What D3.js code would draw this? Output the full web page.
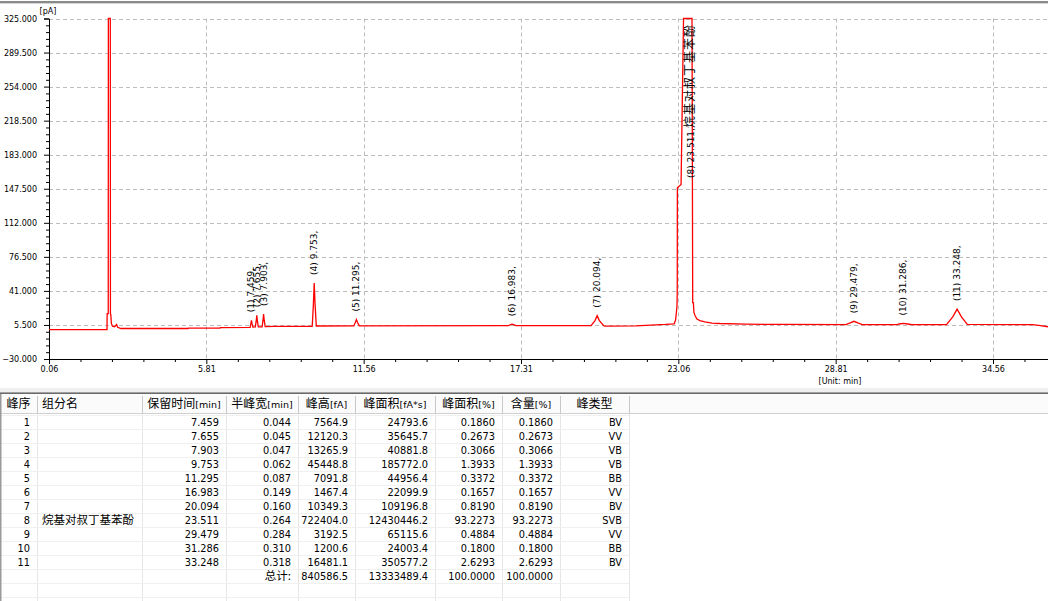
<!DOCTYPE html>
<html><head><meta charset="utf-8">
<script src="https://cdn.jsdelivr.net/npm/d3@7"></script>
<style>
html,body{margin:0;padding:0;background:#fff;overflow:hidden;}
svg{display:block;}
</style></head>
<body>
<script>
// ---------- DATA ----------
const traceTime = [0.06,2.18,2.185,2.225,2.23,2.30,2.305,2.32,2.34,2.38,2.46,2.53,2.57,2.69,5.14,5.15,6.31,6.32,7.41,
  7.437,7.459,7.481,7.51,7.60,7.632,7.655,7.678,7.71,7.85,7.88,7.903,7.926,7.96,8.30,9.68,9.722,9.753,9.784,9.83,
  11.20,11.25,11.295,11.34,11.40,16.85,16.91,16.983,17.06,17.13,19.87,20.014,20.094,20.174,20.34,20.42,21.5,22.6,
  22.91,22.96,22.99,23.01,23.02,23.025,23.16,23.25,23.511,23.56,23.575,23.585,23.61,23.63,23.67,23.74,23.85,24.03,
  24.29,24.58,25.5,27.0,29.18,29.34,29.479,29.62,29.78,31.05,31.13,31.286,31.44,31.60,32.86,33.089,33.248,33.407,
  33.62,36.0,36.3,36.57];
const traceSignal = [0.7,0.7,17.4,17.4,330,330,17.4,16.0,7.0,4.2,3.6,5.9,3.0,1.8,1.8,2.1,2.1,2.8,3.0,
  6.8,10.4,6.8,3.3,3.4,9.4,15.5,9.4,3.5,3.6,10.2,16.9,10.2,3.8,4.0,4.1,26.7,49.3,26.7,4.4,
  4.5,7.8,11.1,7.8,4.6,4.7,5.5,6.3,5.5,4.8,4.8,10.0,15.2,10.0,4.5,4.3,4.6,6.0,
  6.7,10.8,18.7,25.0,39.0,148.6,152,330,722.4,330,150,28.8,28.8,18.5,15.3,11.7,10.1,8.75,
  7.5,7.0,6.3,6.0,5.9,7.6,9.3,7.6,5.9,5.9,6.5,7.1,6.5,5.9,5.9,14.0,22.0,14.0,
  6.0,5.8,4.8,3.6];

const yTickValues = [-30, 5.5, 41, 76.5, 112, 147.5, 183, 218.5, 254, 289.5, 325];
const xTickValues = [0.06, 5.81, 11.56, 17.31, 23.06, 28.81, 34.56];

const peakNo = [1,2,3,4,5,6,7,8,9,10,11];
const peakNames = ['','','','','','','','烷基对叔丁基苯酚','','',''];
const retTimes = [7.459,7.655,7.903,9.753,11.295,16.983,20.094,23.511,29.479,31.286,33.248];
const halfWidths = [0.044,0.045,0.047,0.062,0.087,0.149,0.160,0.264,0.284,0.310,0.318];
const peakHeights = [7564.9,12120.3,13265.9,45448.8,7091.8,1467.4,10349.3,722404.0,3192.5,1200.6,16481.1];
const peakAreas = [24793.6,35645.7,40881.8,185772.0,44956.4,22099.9,109196.8,12430446.2,65115.6,24003.4,350577.2];
const areaPct = [0.1860,0.2673,0.3066,1.3933,0.3372,0.1657,0.8190,93.2273,0.4884,0.1800,2.6293];
const contentPct = [0.1860,0.2673,0.3066,1.3933,0.3372,0.1657,0.8190,93.2273,0.4884,0.1800,2.6293];
const peakTypes = ['BV','VV','VB','VB','BB','VV','BV','SVB','VV','BB','BV'];
const totalLabel = '总计:';
const totals = {height: '840586.5', area: '13333489.4', areaPct: '100.0000', content: '100.0000'};
const headers = ['峰序','组分名','保留时间[min]','半峰宽[min]','峰高[fA]','峰面积[fA*s]','峰面积[%]','含量[%]','峰类型'];

// ---------- LAYOUT ----------
const W = 1048, H = 601;
const L = 49, R = 1048, T = 18.5, B = 359;
const NUM_FONT = '"DejaVu Sans", sans-serif';
const CJK_FONT = '"Noto Sans CJK SC", sans-serif';

const svg = d3.select('body').append('svg').attr('width', W).attr('height', H);
svg.append('rect').attr('width', W).attr('height', H).attr('fill', '#fff');

// window frame top
svg.append('rect').attr('x',0).attr('y',1).attr('width',W).attr('height',2).attr('fill','#8a8a8a');
svg.append('rect').attr('x',0).attr('y',3).attr('width',W).attr('height',1).attr('fill','#d4d4d4');

const x = d3.scaleLinear().domain([0.06, 36.57]).range([L, R]);
const y = d3.scaleLinear().domain([-30, 325]).range([B, T]).clamp(true);

// grid
const grid = svg.append('g').attr('stroke', '#bdbdbd').attr('stroke-dasharray', '4,3').attr('stroke-width', 1);
grid.selectAll('line.h').data(yTickValues.filter(v => v > -30)).join('line')
  .attr('x1', L).attr('x2', R).attr('y1', d => Math.round(y(d)) + 0.5).attr('y2', d => Math.round(y(d)) + 0.5);
grid.selectAll('line.v').data(xTickValues.filter(v => v > 0.06)).join('line')
  .attr('y1', T).attr('y2', B).attr('x1', d => Math.round(x(d)) + 0.5).attr('x2', d => Math.round(x(d)) + 0.5);

// minor ticks
const yMinor = d3.range(-30, 325.01, 7.1).filter(v => !yTickValues.some(t => Math.abs(t - v) < 1e-6));
const xMinor = d3.range(0.06, 36.57, 1.15).filter(v => !xTickValues.some(t => Math.abs(t - v) < 1e-6));

const gyMinor = svg.append('g').attr('transform', `translate(${L},0)`)
  .call(d3.axisLeft(y).tickValues(yMinor).tickSize(3).tickFormat(''));
gyMinor.select('.domain').remove();
const gxMinor = svg.append('g').attr('transform', `translate(0,${B})`)
  .call(d3.axisBottom(x).tickValues(xMinor).tickSize(3).tickFormat(''));
gxMinor.select('.domain').remove();

// axes
const gy = svg.append('g').attr('transform', `translate(${L},0)`)
  .call(d3.axisLeft(y).tickValues(yTickValues).tickSize(5).tickPadding(7).tickFormat(d3.format('.3f')));
const gx = svg.append('g').attr('transform', `translate(0,${B})`)
  .call(d3.axisBottom(x).tickValues(xTickValues).tickSize(5).tickPadding(2).tickFormat(d3.format('.2f')));
[gy, gx].forEach(g => {
  g.attr('font-family', NUM_FONT).attr('font-size', 8);
  g.selectAll('text').attr('fill', '#000');
  g.selectAll('line,path').attr('stroke', '#000');
});
[gyMinor, gxMinor].forEach(g => g.selectAll('line').attr('stroke', '#000'));

svg.append('text').attr('x', 48).attr('y', 14).attr('text-anchor', 'middle')
  .attr('font-family', NUM_FONT).attr('font-size', 8).attr('fill', '#000').text('[pA]');
svg.append('text').attr('x', 840).attr('y', 384).attr('text-anchor', 'middle')
  .attr('font-family', NUM_FONT).attr('font-size', 8).attr('fill', '#000').text('[Unit: min]');

// trace
const pts = traceTime.map((t, i) => [t, traceSignal[i]]);
svg.append('path').datum(pts)
  .attr('fill', 'none').attr('stroke', '#ff0000').attr('stroke-width', 1.3).attr('stroke-linejoin', 'miter')
  .attr('d', d3.line().x(d => x(d[0])).y(d => y(d[1])));

// peak labels
retTimes.forEach((rt, i) => {
  let apex = -Infinity;
  pts.forEach(p => { if (Math.abs(p[0] - rt) <= 0.06) apex = Math.max(apex, p[1]); });
  const px = x(rt);
  const t = svg.append('text').attr('font-family', NUM_FONT).attr('font-size', 9).attr('fill', '#000')
    .attr('dy', '0.33em');
  t.append('tspan').text(`(${peakNo[i]}) ${rt.toFixed(3)},`);
  if (peakNames[i]) {
    t.append('tspan').attr('font-family', CJK_FONT).attr('font-size', 12).attr('letter-spacing', 1)
      .text(peakNames[i]);
  }
  const len = t.node().getComputedTextLength();
  let bottom = y(apex) - 8;
  if (apex >= 325) bottom = Math.min(178, T + 12 + len);
  t.attr('transform', `translate(${px},${bottom}) rotate(-90)`);
});

// ---------- SEPARATOR ----------
svg.append('rect').attr('x',0).attr('y',388).attr('width',W).attr('height',4).attr('fill','#f0f0f0');
svg.append('rect').attr('x',0).attr('y',392).attr('width',W).attr('height',1).attr('fill','#a0a0a0');
svg.append('rect').attr('x',0).attr('y',393).attr('width',W).attr('height',1).attr('fill','#6a6a6a');

// ---------- TABLE ----------
const colX = [0, 37, 142, 226, 298, 355, 435, 502, 560, 629];
const headTop = 394, headBot = 413, rowTop = 414.7, rowH = 14;
svg.append('rect').attr('x',0).attr('y',headTop).attr('width',W).attr('height',headBot-headTop).attr('fill','#fbfbfb');
svg.append('line').attr('x1',0).attr('x2',W).attr('y1',headBot+0.5).attr('y2',headBot+0.5).attr('stroke','#d0d0d0');
colX.slice(1).forEach(cx => {
  svg.append('line').attr('x1',cx+0.5).attr('x2',cx+0.5).attr('y1',headTop+2).attr('y2',headBot).attr('stroke','#c8c8c8');
  svg.append('line').attr('x1',cx+0.5).attr('x2',cx+0.5).attr('y1',headBot+1).attr('y2',H).attr('stroke','#e6e6e6');
});
d3.range(0, 14).forEach(i => {
  const yy = Math.round(rowTop + rowH * i) + 0.5;
  svg.append('line').attr('x1',0).attr('x2',colX[9]).attr('y1',yy).attr('y2',yy).attr('stroke','#f0f0f0');
});
svg.append('rect').attr('x',0).attr('y',394).attr('width',1.5).attr('height',H-394).attr('fill','#9a9a9a');

headers.forEach((h, j) => {
  const m = h.match(/^([^\[]+)(\[.*\])?$/);
  const txt = svg.append('text').attr('y', 408).attr('fill', '#000').attr('font-family', CJK_FONT).attr('font-size', 12);
  if (j === 1) txt.attr('x', colX[1] + 5).attr('text-anchor', 'start');
  else txt.attr('x', (colX[j] + colX[j+1]) / 2).attr('text-anchor', 'middle');
  txt.append('tspan').text(m[1]);
  if (m[2]) txt.append('tspan').attr('font-family', NUM_FONT).attr('font-size', 9.5).text(m[2]);
});

function cell(j, row, text, align, cjk) {
  const yy = rowTop + rowH * row + 10.8;
  const t = svg.append('text').attr('y', yy).attr('fill', '#000')
    .attr('font-family', cjk ? CJK_FONT : NUM_FONT).attr('font-size', cjk ? 11.5 : 9.8);
  if (align === 'left') t.attr('x', colX[j] + 5).attr('text-anchor', 'start');
  else t.attr('x', colX[j+1] - 7).attr('text-anchor', 'end');
  t.text(text);
}
peakNo.forEach((n, i) => {
  cell(0, i, String(n), 'right');
  if (peakNames[i]) cell(1, i, peakNames[i], 'left', true);
  cell(2, i, retTimes[i].toFixed(3), 'right');
  cell(3, i, halfWidths[i].toFixed(3), 'right');
  cell(4, i, peakHeights[i].toFixed(1), 'right');
  cell(5, i, peakAreas[i].toFixed(1), 'right');
  cell(6, i, areaPct[i].toFixed(4), 'right');
  cell(7, i, contentPct[i].toFixed(4), 'right');
  cell(8, i, peakTypes[i], 'right');
});
const tr = peakNo.length;
cell(3, tr, totalLabel, 'right', true);
cell(4, tr, totals.height, 'right');
cell(5, tr, totals.area, 'right');
cell(6, tr, totals.areaPct, 'right');
cell(7, tr, totals.content, 'right');
</script>
</body></html>
